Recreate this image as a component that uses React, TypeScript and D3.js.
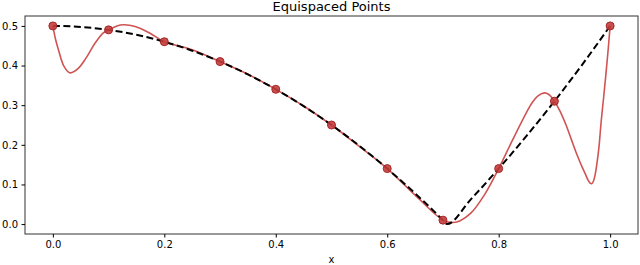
import React, { useEffect, useRef } from "react";
import * as d3 from "d3";

// sample points (equispaced nodes)
const nodeX = [0, 0.1, 0.2, 0.3, 0.4, 0.5, 0.6, 0.7, 0.8, 0.9, 1.0];
const nodeY = [0.5, 0.49, 0.46, 0.41, 0.34, 0.25, 0.14, 0.01, 0.14, 0.31, 0.5];

// true curve (dashed)
const trueX = [0, 0.05, 0.1, 0.15, 0.2, 0.25, 0.3, 0.35, 0.4, 0.45, 0.5, 0.55, 0.6, 0.65, 0.7, 0.707, 0.75, 0.8, 0.85, 0.9, 0.95, 1.0];
const trueY = [0.5, 0.4975, 0.49, 0.4775, 0.46, 0.4375, 0.41, 0.3775, 0.34, 0.2975, 0.25, 0.1975, 0.14, 0.0775, 0.01, 0.0, 0.0625, 0.14, 0.2225, 0.31, 0.4025, 0.5];

// interpolating curve (red)
const interpX = [0, 0.005, 0.01, 0.02, 0.031, 0.045, 0.06, 0.075, 0.09, 0.1, 0.115, 0.127, 0.14, 0.155, 0.175, 0.2, 0.25, 0.3, 0.35, 0.4, 0.45, 0.5, 0.55, 0.6, 0.65, 0.7, 0.715, 0.73, 0.75, 0.775, 0.8, 0.825, 0.85, 0.86, 0.87, 0.882, 0.89, 0.9, 0.91, 0.92, 0.93, 0.94, 0.95, 0.955, 0.96, 0.964, 0.967, 0.97, 0.973, 0.976, 0.98, 0.984, 0.988, 0.992, 0.996, 1.0];
const interpY = [0.5, 0.465, 0.44, 0.398, 0.3815, 0.392, 0.42, 0.455, 0.482, 0.49, 0.5, 0.503, 0.501, 0.495, 0.481, 0.46, 0.44, 0.41, 0.378, 0.34, 0.298, 0.25, 0.196, 0.14, 0.073, 0.01, 0.004, 0.008, 0.0275, 0.075, 0.14, 0.2125, 0.282, 0.306, 0.323, 0.331, 0.327, 0.31, 0.285, 0.253, 0.215, 0.177, 0.143, 0.128, 0.112, 0.1035, 0.102, 0.108, 0.124, 0.15, 0.195, 0.26, 0.315, 0.372, 0.433, 0.5];

const xTicks = [0, 0.2, 0.4, 0.6, 0.8, 1.0];
const yTicks = [0, 0.1, 0.2, 0.3, 0.4, 0.5];

export default function App() {
  const ref = useRef<SVGSVGElement>(null);

  useEffect(() => {
    const W = 640, H = 265;
    const margin = { top: 16, right: 2, bottom: 31, left: 25 };
    const svg = d3.select(ref.current);
    svg.selectAll("*").remove();

    const x = d3.scaleLinear().domain([-0.05, 1.05]).range([margin.left, W - margin.right]);
    const y = d3.scaleLinear().domain([-0.025, 0.525]).range([H - margin.bottom, margin.top]);

    const font = "DejaVu Sans, sans-serif";

    // red interpolant
    const red = interpX.map((v, i) => [v, interpY[i]] as [number, number]);
    svg.append("path")
      .attr("d", d3.line().x(d => x(d[0])).y(d => y(d[1])).curve(d3.curveCatmullRom.alpha(0.5))(red))
      .attr("fill", "none")
      .attr("stroke", "#d05454")
      .attr("stroke-width", 1.6);

    // dashed true function
    const tr = trueX.map((v, i) => [v, trueY[i]] as [number, number]);
    svg.append("path")
      .attr("d", d3.line().x(d => x(d[0])).y(d => y(d[1])).curve(d3.curveMonotoneX)(tr))
      .attr("fill", "none")
      .attr("stroke", "#000")
      .attr("stroke-width", 2)
      .attr("stroke-dasharray", "7,3.5");

    // nodes
    svg.selectAll("circle.node")
      .data(nodeX)
      .join("circle")
      .attr("class", "node")
      .attr("cx", d => x(d))
      .attr("cy", (d, i) => y(nodeY[i]))
      .attr("r", 4)
      .attr("fill", "#c43c3c")
      .attr("fill-opacity", 0.9)
      .attr("stroke", "#a52626")
      .attr("stroke-width", 1);

    // frame
    svg.append("rect")
      .attr("x", margin.left)
      .attr("y", margin.top)
      .attr("width", W - margin.left - margin.right)
      .attr("height", H - margin.top - margin.bottom)
      .attr("fill", "none")
      .attr("stroke", "#333")
      .attr("stroke-width", 1);

    // x axis
    const xg = svg.append("g")
      .attr("transform", `translate(0, ${H - margin.bottom})`)
      .call(d3.axisBottom(x).tickValues(xTicks).tickFormat(d3.format(".1f")).tickSize(3.5).tickPadding(3.5));
    xg.select(".domain").remove();
    xg.selectAll("text").attr("font-family", font).attr("font-size", 10).attr("fill", "#000");

    // y axis
    const yg = svg.append("g")
      .attr("transform", `translate(${margin.left}, 0)`)
      .call(d3.axisLeft(y).tickValues(yTicks).tickFormat(d3.format(".1f")).tickSize(3.5).tickPadding(3.5));
    yg.select(".domain").remove();
    yg.selectAll("text").attr("font-family", font).attr("font-size", 10).attr("fill", "#000");

    svg.append("text")
      .attr("x", (margin.left + W - margin.right) / 2)
      .attr("y", 11)
      .attr("text-anchor", "middle")
      .attr("font-family", font)
      .attr("font-size", 13)
      .text("Equispaced Points");

    svg.append("text")
      .attr("x", (margin.left + W - margin.right) / 2)
      .attr("y", 263)
      .attr("text-anchor", "middle")
      .attr("font-family", font)
      .attr("font-size", 10)
      .text("x");
  }, []);

  return (
    <div style={{ position: "absolute", left: 0, top: 0 }}>
      <svg ref={ref} width={640} height={265} style={{ display: "block", background: "#fff" }} />
    </div>
  );
}
